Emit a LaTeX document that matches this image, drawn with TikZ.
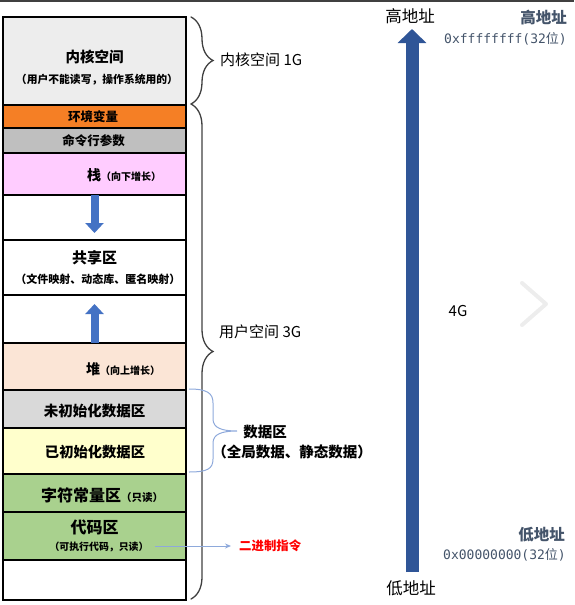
\documentclass[tikz,border=0pt]{standalone}
\usepackage{fontspec}
\setmainfont{Noto Sans CJK SC}
\newfontfamily\cjk{Noto Sans CJK SC}
\newfontfamily\mono{DejaVu Sans Mono}
\usetikzlibrary{decorations.pathreplacing,arrows.meta}
\definecolor{kernC}{HTML}{EDEDED}
\definecolor{envC}{HTML}{F57F25}
\definecolor{cmdC}{HTML}{BFBFBF}
\definecolor{stackC}{HTML}{FFCCFF}
\definecolor{heapC}{HTML}{FBE5D6}
\definecolor{bssC}{HTML}{D9D9D9}
\definecolor{dataC}{HTML}{FFFFCC}
\definecolor{greenC}{HTML}{A9D18E}
\definecolor{blueA}{HTML}{4472C4}
\definecolor{blueD}{HTML}{2F5597}
\definecolor{blueL}{HTML}{8EA9DB}
\definecolor{slate}{HTML}{44546A}
\definecolor{braceC}{HTML}{404040}
\definecolor{redT}{HTML}{FF0000}
\newcommand{\fsz}[1]{\fontsize{#1}{#1}\selectfont}
\begin{document}
\begin{tikzpicture}[x=1pt,y=-1pt,
  seg/.style={draw=black, line width=1.3pt, minimum width=183pt, inner sep=0pt, outer sep=0pt},
  boxt/.style={font=\cjk\bfseries, inner sep=0pt},
  sidet/.style={font=\cjk\fsz{15}, inner sep=0pt, anchor=west},
  addrt/.style={font=\cjk\bfseries\fsz{15.5}, text=slate, inner sep=0pt, anchor=east},
  hext/.style={font=\mono\fsz{13}, text=slate, inner sep=0pt, anchor=east},
  endt/.style={font=\cjk\fsz{16.5}, inner sep=0pt},
  bracedeco/.style={draw=braceC, line width=1.3pt, line cap=round, decorate, decoration={brace, amplitude=22pt}},
  blockarrow/.style={draw=blueA, line width=8pt, -{Triangle[width=18pt,length=10pt]}},
]
\useasboundingbox (0,0) rectangle (574,605);
% top border line
\draw[braceC, line width=2pt] (0,1) -- (574,1);

% memory segments
\node[seg, fill=kernC,  minimum height=88pt] (kern)  at (94.5,61) {};
\node[seg, fill=envC,   minimum height=23pt] (env)   at (94.5,116.5) {};
\node[seg, fill=cmdC,   minimum height=25pt] (cmd)   at (94.5,140.5) {};
\node[seg, fill=stackC, minimum height=42pt] (stk)   at (94.5,174) {};
\node[seg, fill=white,  minimum height=45pt] (free1) at (94.5,217.5) {};
\node[seg, fill=white,  minimum height=55pt] (shr)   at (94.5,267.5) {};
\node[seg, fill=white,  minimum height=48pt] (free2) at (94.5,319) {};
\node[seg, fill=heapC,  minimum height=47pt] (heap)  at (94.5,366.5) {};
\node[seg, fill=bssC,   minimum height=38pt] (bss)   at (94.5,409) {};
\node[seg, fill=dataC,  minimum height=46pt] (dat)   at (94.5,451) {};
\node[seg, fill=greenC, minimum height=38pt] (rod)   at (94.5,493) {};
\node[seg, fill=greenC, minimum height=48pt] (code)  at (94.5,536) {};
\node[seg, fill=white,  minimum height=40pt] (bot)   at (94.5,580) {};

% segment texts
\node[boxt, font=\cjk\bfseries\fsz{14.5}] (kernT) at (94.5,57) {内核空间};
\node[boxt, font=\cjk\bfseries\fsz{10.8}] (kernS) at (97,80) {（用户不能读写，操作系统用的）};
\node[boxt, font=\cjk\bfseries\fsz{12.5}] (envT) at (93,117) {环境变量};
\node[boxt, font=\cjk\bfseries\fsz{12.5}] (cmdT) at (93.5,141) {命令行参数};
\node[anchor=west, inner sep=0pt] (stkT) at (87,175) {\cjk\bfseries\fsz{14}栈\fsz{10}（向下增长）};
\node[boxt, font=\cjk\bfseries\fsz{15}] (shrT) at (94.5,258) {共享区};
\node[boxt, font=\cjk\bfseries\fsz{11}] (shrS) at (98,279) {（文件映射、动态库、匿名映射）};
\node[anchor=west, inner sep=0pt] (heapT) at (86,369) {\cjk\bfseries\fsz{14}堆\fsz{10}（向上增长）};
\node[boxt, font=\cjk\bfseries\fsz{14.5}] (bssT) at (94.5,411) {未初始化数据区};
\node[boxt, font=\cjk\bfseries\fsz{14.3}] (datT) at (95,452) {已初始化数据区};
\node[anchor=west, inner sep=0pt] (rodT) at (41,495) {\cjk\bfseries\fsz{16}字符常量区\fsz{10.5}（只读）};
\node[boxt, font=\cjk\bfseries\fsz{16}] (codeT) at (94.5,527) {代码区};
\node[boxt, font=\cjk\bfseries\fsz{9.9}] (codeS) at (99,547) {（可执行代码，只读）};

% growth arrows
\draw[blockarrow] (free1.north) -- ++(0,38);
\draw[blockarrow] (free2.south) -- ++(0,-39);

% braces
\coordinate (b1a) at (191,17);
\coordinate (b1b) at (191,104);
\coordinate (b2a) at (191,104);
\coordinate (b2b) at (191,599);
\draw[bracedeco] (b1a) -- (b1b);
\draw[bracedeco] (b2a) -- (b2b);
\node[sidet] (kspace) at (220,60) {内核空间 1G};
\node[sidet] (uspace) at (219,332) {用户空间 3G};

% data area brace (blue)
\coordinate (db1) at (189,389);
\coordinate (dtip) at (237,431);
\coordinate (db2) at (189,472);
\draw[blueL, line width=1pt]
  (db1) .. controls (207,389) and (213,393) .. (213,403) -- (213,419)
  .. controls (213,428) and (222,431) .. (dtip)
  .. controls (222,431) and (213,434) .. (213,443) -- (213,459)
  .. controls (213,469) and (207,472) .. (db2);
\node[boxt, font=\cjk\bfseries\fsz{14.5}] (dT) at (265,432) {数据区};
\node[boxt, font=\cjk\bfseries\fsz{14.5}] (dS) at (292,452) {（全局数据、静态数据）};

% binary instructions
\node[boxt, font=\cjk\bfseries\fsz{12.4}, text=redT, anchor=west] (bin) at (239,546) {二进制指令};
\coordinate (codeR) at (155,546);
\draw[blueL, line width=0.9pt, -{Stealth[length=6pt,width=5pt]}] (codeR) -- ([xshift=-8pt]bin.west);

% address arrow
\node[endt] (hi) at (410,16) {高地址};
\node[endt] (lo) at (411,588) {低地址};
\coordinate (arrB) at (412,572);
\coordinate (arrT) at (412,29);
\draw[blueD, line width=13pt, -{Triangle[width=28pt,length=14pt]}] (arrB) -- (arrT);
\node[font=\cjk\fsz{15}, inner sep=0pt] (fourG) at (458,311) {4G};

% right labels
\node[addrt] (hiR) at (567,18) {高地址};
\node[hext] (hiH) at (567,39) {0xffffffff(32{\cjk 位})};
\node[addrt] (loR) at (565,535) {低地址};
\node[hext] (loH) at (566,555) {0x00000000(32{\cjk 位})};

% faint chevron
\draw[black!7, line width=4pt, line cap=round, line join=round] (522,283) -- (546,304) -- (522,325);
\end{tikzpicture}
\end{document}
